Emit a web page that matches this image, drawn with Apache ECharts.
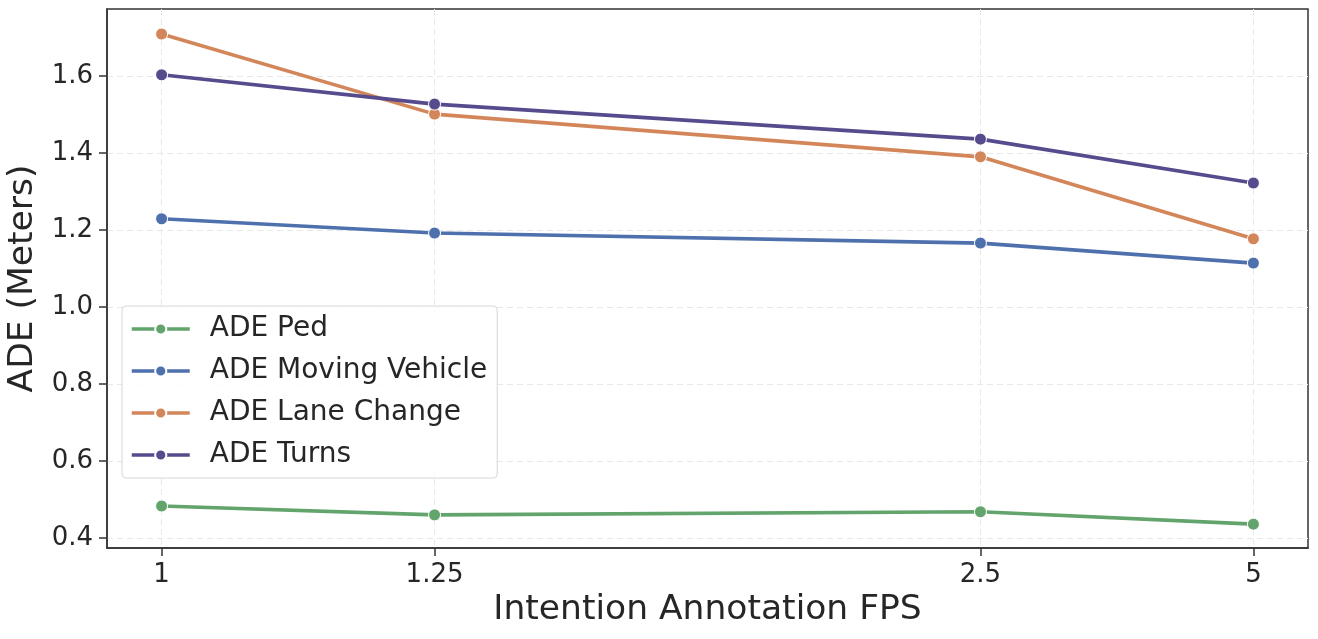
<!DOCTYPE html>
<html>
<head>
<meta charset="utf-8">
<script src="https://cdn.jsdelivr.net/npm/echarts@6/dist/echarts.min.js"></script>
<style>
  html, body { margin: 0; padding: 0; background: #fff; }
  #chart { width: 1318px; height: 639px; }
</style>
</head>
<body>
<div id="chart"></div>
<script>
// x categories are placed at these positions on the axis (1.25 -> 2.5 leaves a gap)
var fpsLabels = ['1', '1.25', '2.5', '5'];
var fpsPos = [0, 1, 3, 4];

var seriesNames = ['ADE Ped', 'ADE Moving Vehicle', 'ADE Lane Change', 'ADE Turns'];
var adePed = [0.483, 0.460, 0.468, 0.436];
var adeMoving = [1.229, 1.192, 1.166, 1.114];
var adeLane = [1.709, 1.501, 1.390, 1.177];
var adeTurns = [1.603, 1.527, 1.436, 1.322];
var yTicks = [0.4, 0.6, 0.8, 1.0, 1.2, 1.4, 1.6];

var colors = ['#62a46c', '#4e71ad', '#d3865a', '#564b8c'];
var allValues = [adePed, adeMoving, adeLane, adeTurns];

function pairs(vals) {
    var out = [];
    for (var i = 0; i < vals.length; i++) {
        out.push([fpsPos[i], vals[i]]);
    }
    return out;
}

var series = [];
for (var s = 0; s < seriesNames.length; s++) {
    series.push({
        name: seriesNames[s],
        type: 'line',
        data: pairs(allValues[s]),
        symbol: 'circle',
        symbolSize: 12,
        lineStyle: { width: 3.6, color: colors[s] },
        itemStyle: { color: colors[s], borderColor: '#fff', borderWidth: 1 },
        z: 3
    });
}

var dom = document.getElementById('chart');
var myChart = echarts.init(dom);

var option = {
    animation: false,
    color: colors,
    textStyle: { fontFamily: 'DejaVu Sans' },
    grid: {
        left: 107, right: 10, top: 9, bottom: 91,
        outerBoundsMode: 'none',
        containLabel: false,
        show: true, borderColor: '#333', borderWidth: 1.5
    },
    legend: {
        data: seriesNames,
        orient: 'vertical',
        left: 122,
        top: 306,
        padding: [8, 10, 8, 8],
        itemGap: 12,
        itemWidth: 58,
        itemHeight: 14,
        lineStyle: { width: 3.5 },
        backgroundColor: 'rgba(255,255,255,0.85)',
        borderColor: '#d6d6d6',
        borderWidth: 1,
        borderRadius: 4,
        textStyle: { fontSize: 28, lineHeight: 30, color: '#262626', fontFamily: 'DejaVu Sans', padding: [0, 0, 0, 15] }
    },
    xAxis: {
        type: 'value',
        min: -0.2,
        max: 4.2,
        name: 'Intention Annotation FPS',
        nameLocation: 'middle',
        nameGap: 45,
        nameTextStyle: { fontSize: 34.5, color: '#262626' },
        axisLine: { show: true, onZero: false, lineStyle: { color: '#333', width: 1.5 } },
        axisTick: { show: true, inside: false, length: 8, customValues: fpsPos, lineStyle: { color: '#333', width: 1.5 } },
        axisLabel: {
            customValues: fpsPos,
            fontSize: 26, color: '#262626', margin: 14,
            formatter: function (v) { return fpsLabels[fpsPos.indexOf(v)]; }
        },
        splitLine: { show: true, lineStyle: { color: '#e8e8e8', type: [6, 4], width: 1 } }
    },
    yAxis: {
        type: 'value',
        min: 0.374,
        max: 1.774,
        name: 'ADE (Meters)',
        nameLocation: 'middle',
        nameGap: 63,
        nameTextStyle: { fontSize: 34.5, color: '#262626' },
        axisLine: { show: true, onZero: false, lineStyle: { color: '#333', width: 1.5 } },
        axisTick: { show: true, inside: false, length: 8, customValues: yTicks, lineStyle: { color: '#333', width: 1.5 } },
        axisLabel: {
            customValues: yTicks,
            fontSize: 26, color: '#262626', margin: 14,
            formatter: function (v) { return v.toFixed(1); }
        },
        splitLine: { show: true, lineStyle: { color: '#e8e8e8', type: [6, 4], width: 1 } }
    },
    series: series
};

if (option && typeof option === 'object') {
    myChart.setOption(option, true);
}
</script>
</body>
</html>
